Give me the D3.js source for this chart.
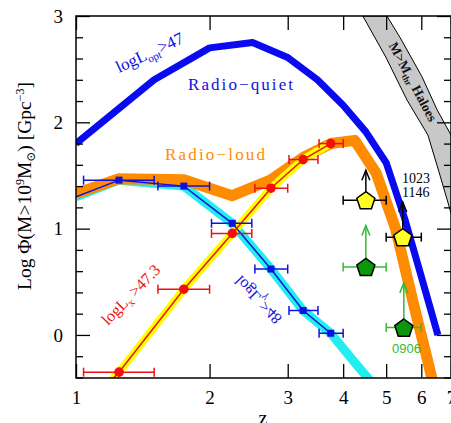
<!DOCTYPE html>
<html>
<head>
<meta charset="utf-8">
<script src="https://cdn.jsdelivr.net/npm/d3@7"></script>
<style>
body { margin: 0; background: #fff; }
svg { display: block; font-family: 'Liberation Serif', 'DejaVu Serif', serif; }
</style>
</head>
<body>
<div id="container"></div>
<script>
// model curves: redshift and log number density
const quietZ = [1.0, 1.5, 2.0, 2.5, 3.0, 3.5, 4.0, 4.5, 5.0, 5.5, 6.0, 6.54]
const quietPhi = [1.80, 2.40, 2.70, 2.75, 2.61, 2.40, 2.16, 1.91, 1.62, 1.10, 0.55, 0.0]
const loudZ = [1.0, 1.25, 1.75, 2.25, 2.75, 3.25, 3.75, 4.25, 4.75, 5.25, 5.75, 6.25, 6.75]
const loudPhi = [1.33, 1.47, 1.46, 1.31, 1.46, 1.67, 1.80, 1.83, 1.52, 1.0, 0.31, -0.3, -0.9]
const gammaZ = [1.0, 1.25, 1.75, 2.25, 2.75, 3.25, 3.75, 4.25, 4.75]
const gammaPhi = [1.30, 1.456, 1.40, 1.05, 0.62, 0.23, 0.016, -0.26, -0.5]
const xrayZ = [1.2, 1.25, 1.75, 2.25, 2.75, 3.25, 3.75]
const xrayPhi = [-0.43, -0.35, 0.43, 0.955, 1.38, 1.65, 1.80]

// binned samples
const binZ = [1.25, 1.75, 2.25, 2.75, 3.25, 3.75]
const binLo = [1.04, 1.53, 2.02, 2.53, 3.02, 3.53]
const binHi = [1.5, 2.0, 2.49, 3.0, 3.51, 4.0]
const gammaData = [1.456, 1.40, 1.05, 0.62, 0.23, 0.016]
const xrayData = [-0.35, 0.43, 0.955, 1.38, 1.65, 1.80]

// halo band edges
const haloLoZ = [4.43, 4.99, 5.57, 6.21, 6.61, 7.0, 7.3]
const haloLoPhi = [3.0, 2.614, 2.21, 1.88, 1.503, 1.147, 0.9]
const haloHiZ = [5.02, 5.37, 6.02, 6.51, 7.0, 7.3]
const haloHiPhi = [3.0, 2.80, 2.43, 2.12, 1.88, 1.7]

// high-z blazars (lower limits)
const yelZ = [4.5, 5.45]
const yelLo = [4.0, 5.0]
const yelHi = [5.0, 6.0]
const yelPhi = [1.268, 0.92]
const yelTip = [1.55, 1.25]
const grnZ = [4.5, 5.48]
const grnLo = [4.0, 5.0]
const grnHi = [5.0, 6.0]
const grnPhi = [0.64, 0.07]
const grnTip = [1.03, 0.49]

const xTicks = [1, 2, 3, 4, 5, 6, 7]
const yTicks = [0, 1, 2, 3]
const yMinor = [-0.4, -0.2, 0.2, 0.4, 0.6, 0.8, 1.2, 1.4, 1.6, 1.8, 2.2, 2.4, 2.6, 2.8]

const w = 451
const h = 423
const pl = 76, pr = 451, pt = 16, pb = 378

const x = d3.scaleLog([1, 7], [pl, pr])
const y = d3.scaleLinear([-0.405, 3], [pb, pt])

const svg = d3.select('#container').append('svg')
    .attr('width', w)
    .attr('height', h)

svg.append('defs').append('clipPath').attr('id', 'clip')
    .append('rect')
    .attr('x', pl).attr('y', pt)
    .attr('width', pr - pl).attr('height', pb - pt)

const plot = svg.append('g').attr('clip-path', 'url(#clip)')

const line = d3.line().x(d => x(d[0])).y(d => y(d[1]))
const zip = (a, b) => a.map((v, i) => [v, b[i]])

// halo band
const band = zip(haloLoZ, haloLoPhi).concat(zip(haloHiZ, haloHiPhi).reverse())
plot.append('path')
    .attr('d', line(band) + 'Z')
    .attr('fill', '#c8c8c8')
    .attr('stroke', '#000')
    .attr('stroke-width', 1)

svg.append('text')
    .attr('transform', 'translate(409,84) rotate(62)')
    .attr('text-anchor', 'middle')
    .attr('font-size', 13.5)
    .attr('font-weight', 'bold')
    .attr('fill', '#111')
    .call(t => {
        t.append('tspan').text('M>M')
        t.append('tspan').text('thr').attr('font-size', 9).attr('dy', 3)
        t.append('tspan').text('  Haloes').attr('dy', -3)
    })

// thick model bands
const thick = (pts, color, width) => plot.append('path')
    .attr('d', line(pts))
    .attr('fill', 'none')
    .attr('stroke', color)
    .attr('stroke-width', width)
    .attr('stroke-linejoin', 'round')

thick(zip(quietZ, quietPhi), '#0a0af0', 7)
thick(zip(gammaZ, gammaPhi), '#22eef0', 9)
thick(zip(loudZ, loudPhi), '#ff8c00', 11)
thick(zip(xrayZ, xrayPhi), '#ffff00', 8)

// thin model lines
plot.append('path')
    .attr('d', line(zip(gammaZ.slice(0, 7), gammaPhi.slice(0, 7))))
    .attr('fill', 'none').attr('stroke', '#1010e0').attr('stroke-width', 1.5)
plot.append('path')
    .attr('d', line(zip(xrayZ, xrayPhi)))
    .attr('fill', 'none').attr('stroke', '#f01010').attr('stroke-width', 1.5)

// horizontal error bars
const errBar = (g, zc, lo, hi, v, color) => {
    g.append('line').attr('x1', x(lo)).attr('x2', x(hi)).attr('y1', y(v)).attr('y2', y(v))
        .attr('stroke', color).attr('stroke-width', 1.5)
    ;[lo, hi].forEach(e => g.append('line')
        .attr('x1', x(e)).attr('x2', x(e)).attr('y1', y(v) - 4.5).attr('y2', y(v) + 4.5)
        .attr('stroke', color).attr('stroke-width', 1.5))
}

binZ.forEach((z, i) => errBar(svg, z, binLo[i], binHi[i], gammaData[i], '#1010e0'))
binZ.forEach((z, i) => errBar(svg, z, binLo[i], binHi[i], xrayData[i], '#f01010'))

svg.selectAll('rect.sq')
    .data(binZ)
    .enter()
    .append('rect')
    .attr('class', 'sq')
    .attr('x', (d, i) => x(d) - 3.5)
    .attr('y', (d, i) => y(gammaData[i]) - 3.5)
    .attr('width', 7)
    .attr('height', 7)
    .attr('fill', '#1010e0')

svg.selectAll('circle.dot')
    .data(binZ)
    .enter()
    .append('circle')
    .attr('class', 'dot')
    .attr('cx', d => x(d))
    .attr('cy', (d, i) => y(xrayData[i]))
    .attr('r', 4.8)
    .attr('fill', '#f01010')

// pentagons with upward arrows
const pentagon = (cx, cy, r) => d3.range(5).map(k => {
    const a = -Math.PI / 2 + k * 2 * Math.PI / 5
    return [cx + r * Math.cos(a), cy + r * Math.sin(a)]
})

const source = (z, lo, hi, v, tip, barColor, fill) => {
    errBar(svg, z, lo, hi, v, barColor)
    const cx = x(z), cy = y(v), ty = y(tip)
    svg.append('line').attr('x1', cx).attr('x2', cx).attr('y1', cy - 8).attr('y2', ty)
        .attr('stroke', barColor).attr('stroke-width', 1.5)
    svg.append('path')
        .attr('d', `M${cx - 4},${ty + 10}L${cx},${ty}L${cx + 4},${ty + 10}`)
        .attr('fill', 'none').attr('stroke', barColor).attr('stroke-width', 1.5)
    svg.append('polygon')
        .attr('points', pentagon(cx, cy + 1, 9.5).map(p => p.join(',')).join(' '))
        .attr('fill', fill).attr('stroke', '#000').attr('stroke-width', 1.5)
}

yelZ.forEach((z, i) => source(z, yelLo[i], yelHi[i], yelPhi[i], yelTip[i], '#000', '#ffff22'))
grnZ.forEach((z, i) => source(z, grnLo[i], grnHi[i], grnPhi[i], grnTip[i], '#33bb33', '#0c960c'))

svg.append('text').attr('x', 402).attr('y', 183).attr('font-size', 14).text('1023')
svg.append('text').attr('x', 402).attr('y', 197).attr('font-size', 14).text('1146')
svg.append('text').attr('x', 392).attr('y', 353).attr('font-size', 13)
    .attr('font-family', 'Liberation Sans, Arial, sans-serif')
    .attr('fill', '#33bb33').text('0906')

// curve labels
svg.append('text')
    .attr('transform', 'translate(119,73) rotate(-25)')
    .attr('font-size', 17)
    .attr('fill', '#1010e0')
    .call(t => {
        t.append('tspan').text('logL')
        t.append('tspan').text('opt').attr('font-size', 11).attr('dy', 4)
        t.append('tspan').text('>47').attr('dy', -4)
    })

svg.append('text')
    .attr('x', 188).attr('y', 90)
    .attr('font-size', 17)
    .attr('fill', '#1010e0')
    .attr('textLength', 105)
    .text('Radio−quiet')

svg.append('text')
    .attr('x', 165).attr('y', 160)
    .attr('font-size', 17)
    .attr('fill', '#ff8c00')
    .attr('textLength', 100)
    .text('Radio−loud')

svg.append('text')
    .attr('transform', 'translate(108,326) rotate(-46)')
    .attr('font-size', 16)
    .attr('fill', '#f01010')
    .call(t => {
        t.append('tspan').text('logL')
        t.append('tspan').text('x').attr('font-size', 11).attr('dy', 4)
        t.append('tspan').text(' >47.3').attr('dy', -4)
    })

svg.append('text')
    .attr('transform', 'translate(258,300) rotate(46) scale(1,-1)')
    .attr('text-anchor', 'middle')
    .attr('dy', '0.35em')
    .attr('font-size', 16)
    .attr('fill', '#1010e0')
    .call(t => {
        t.append('tspan').text('logL')
        t.append('tspan').text('γ').attr('font-size', 11).attr('dy', 4)
        t.append('tspan').text('>48').attr('dy', -4)
    })

// axes
const styleAxis = g => {
    g.select('.domain').remove()
    g.attr('font-family', null).attr('font-size', 19)
    g.selectAll('line').attr('stroke-width', 1.3)
    g.selectAll('text').attr('fill', '#000')
}

svg.append('g')
    .attr('transform', `translate(0,${pb})`)
    .call(d3.axisBottom(x).tickValues(xTicks).tickFormat(d3.format('d')).tickSize(-14).tickPadding(13))
    .call(styleAxis)

svg.append('g')
    .attr('transform', `translate(0,${pt})`)
    .call(d3.axisTop(x).tickValues(xTicks).tickFormat('').tickSize(-14))
    .call(styleAxis)

svg.append('g')
    .attr('transform', `translate(${pl},0)`)
    .call(d3.axisLeft(y).tickValues(yTicks).tickFormat(d3.format('d')).tickSize(-14).tickPadding(13))
    .call(styleAxis)

svg.append('g')
    .attr('transform', `translate(${pl},0)`)
    .call(d3.axisLeft(y).tickValues(yMinor).tickFormat('').tickSize(-7))
    .call(styleAxis)

svg.append('g')
    .attr('transform', `translate(${pr},0)`)
    .call(d3.axisRight(y).tickValues(yTicks).tickFormat('').tickSize(-14))
    .call(styleAxis)

svg.append('g')
    .attr('transform', `translate(${pr},0)`)
    .call(d3.axisRight(y).tickValues(yMinor).tickFormat('').tickSize(-7))
    .call(styleAxis)

svg.append('rect')
    .attr('x', pl).attr('y', pt)
    .attr('width', pr - pl).attr('height', pb - pt)
    .attr('fill', 'none').attr('stroke', '#000').attr('stroke-width', 1.5)

// axis titles
svg.append('text')
    .attr('x', 263).attr('y', 425)
    .attr('text-anchor', 'middle')
    .attr('font-size', 20)
    .text('z')

svg.append('text')
    .attr('transform', 'translate(31,186) rotate(-90)')
    .attr('text-anchor', 'middle')
    .attr('font-size', 19.5)
    .call(t => {
        t.append('tspan').text('Log  Φ(M>10')
        t.append('tspan').text('9').attr('font-size', 12).attr('dy', -7)
        t.append('tspan').text('M').attr('dy', 7)
        t.append('tspan').text('⊙').attr('font-size', 12).attr('dy', 4)
        t.append('tspan').text(')  [Gpc').attr('dy', -4)
        t.append('tspan').text('−3').attr('font-size', 12).attr('dy', -7)
        t.append('tspan').text(']').attr('dy', 7)
    })
</script>
</body>
</html>
